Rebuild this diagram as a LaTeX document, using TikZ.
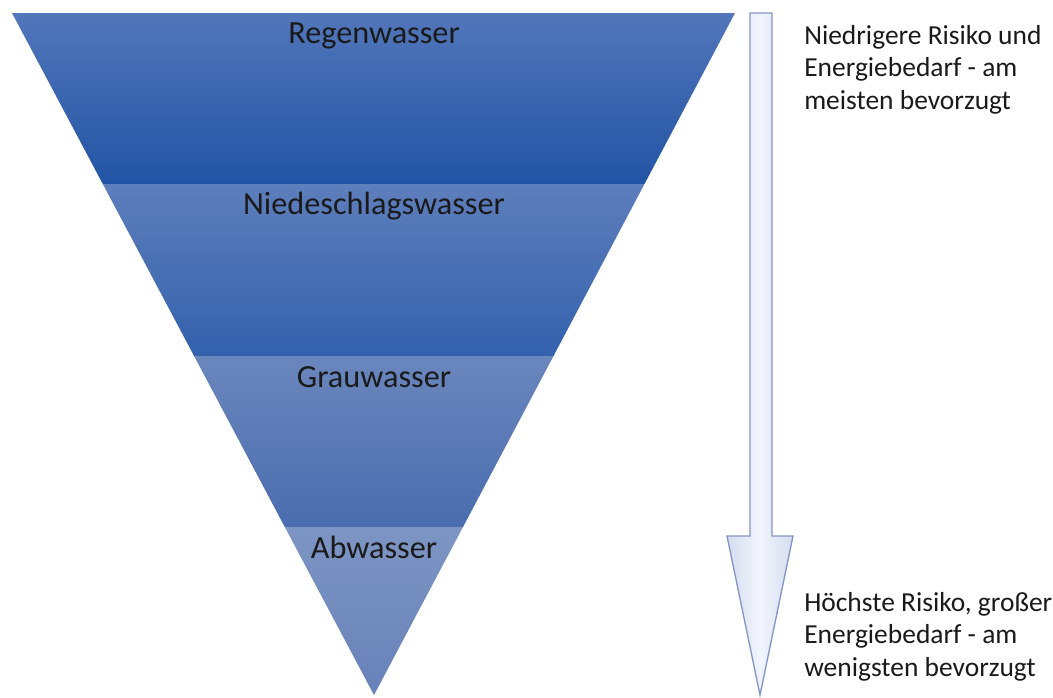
\documentclass[tikz,border=0pt]{standalone}
\usepackage{fontspec}
\setmainfont{Carlito}
\definecolor{bOneT}{HTML}{5276BA}
\definecolor{bOneB}{HTML}{2254A5}
\definecolor{bTwoT}{HTML}{5E7EBC}
\definecolor{bTwoB}{HTML}{3361AC}
\definecolor{bThreeT}{HTML}{6A86BD}
\definecolor{bThreeB}{HTML}{4A6DAF}
\definecolor{bFourT}{HTML}{7D95C4}
\definecolor{bFourB}{HTML}{6782B9}
\definecolor{arrEdge}{HTML}{D3DCF0}
\definecolor{arrMid}{HTML}{F2F5FC}
\definecolor{arrLine}{HTML}{8596C2}
\definecolor{txt}{HTML}{1A1A1A}
\tikzset{
  bandlabel/.style={anchor=base, inner sep=0pt, text=txt, font=\fontsize{24.2}{29}\selectfont},
  sidetext/.style={anchor=north west, inner sep=0pt, align=left, text=txt, font=\fontsize{20.6}{24.3}\selectfont},
}
\begin{document}
\begin{tikzpicture}[x=0.75pt,y=-0.75pt]
\useasboundingbox (0,0) rectangle (1053,697);
% bands of the inverted triangle
\shade[top color=bOneT, bottom color=bOneB] (12,13) -- (735,13) -- (644.5,184) -- (102.8,184) -- cycle;
\shade[top color=bTwoT, bottom color=bTwoB] (102.8,184) -- (644.5,184) -- (553.5,356) -- (194.1,356) -- cycle;
\shade[top color=bThreeT, bottom color=bThreeB] (194.1,356) -- (553.5,356) -- (463,527) -- (284.8,527) -- cycle;
\shade[top color=bFourT, bottom color=bFourB] (284.8,527) -- (463,527) -- (374,695) -- cycle;
% labels
\node[bandlabel] (regen) at (374,43) {Regenwasser};
\node[bandlabel] (nieder) at (374,214) {Niedeschlagswasser};
\node[bandlabel] (grau) at (374,387) {Grauwasser};
\node[bandlabel] (ab) at (374,558) {Abwasser};
% arrow
\shade[left color=arrEdge, right color=arrEdge, middle color=arrMid]
  (750,13) -- (772,13) -- (772,536) -- (793,536) -- (760,695) -- (727,536) -- (750,536) -- cycle;
\draw[arrLine, line width=1pt, line join=miter]
  (750,13) -- (772,13) -- (772,536) -- (793,536) -- (760,695) -- (727,536) -- (750,536) -- cycle;
% side texts
\node[sidetext] (low) at (804,25) {Niedrigere Risiko und\\Energiebedarf - am\\meisten bevorzugt};
\node[sidetext] (high) at (804,592) {Höchste Risiko, großer\\Energiebedarf - am\\wenigsten bevorzugt};
\end{tikzpicture}
\end{document}
